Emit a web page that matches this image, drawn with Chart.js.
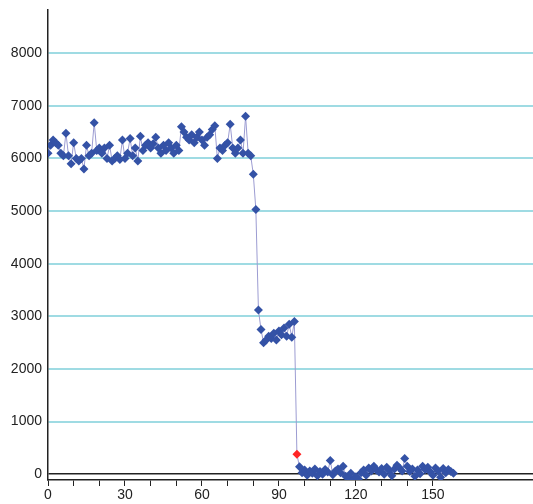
<!DOCTYPE html>
<html>
<head>
<meta charset="utf-8">
<script src="https://cdn.jsdelivr.net/npm/chart.js@4.4.1/dist/chart.umd.min.js"></script>
<style>
  html, body { margin: 0; padding: 0; background: #ffffff; }
  #wrap { width: 533px; height: 504px; position: relative; }
</style>
</head>
<body>
<div id="wrap"><canvas id="c" width="533" height="504"></canvas></div>
<script>
// Series values, one per sample (x = sample index)
const values = [
  6100, 6250, 6350, 6300, 6250, 6100, 6050, 6480, 6050, 5900,
  6300, 6000, 5950, 6000, 5800, 6250, 6050, 6100, 6680, 6150,
  6200, 6100, 6200, 6000, 6250, 5950, 6000, 6050, 5980, 6350,
  6000, 6100, 6380, 6050, 6200, 5950, 6420, 6150, 6250, 6300,
  6200, 6280, 6400, 6200, 6100, 6250, 6150, 6300, 6200, 6100,
  6250, 6150, 6600, 6500, 6400, 6350, 6450, 6300, 6400, 6500,
  6350, 6250, 6400, 6450, 6550, 6620, 6000, 6200, 6150, 6250,
  6300, 6650, 6200, 6100, 6200, 6350, 6100, 6800, 6100, 6050,
  5700, 5030, 3120, 2750, 2500, 2550, 2620, 2580, 2680, 2550,
  2720, 2650, 2780, 2620, 2850, 2600, 2900, 380, 140, 30,
  80, -20, 60, 20, 100, -30, 50, 0, 90, 40,
  260, -10, 60, 100, 30, 150, -40, -60, 20, -100,
  -50, -90, 30, 80, -20, 120, 60, 150, 80, 40,
  110, 0, 130, 70, -30, 100, 170, 120, 60, 300,
  150, 50, 100, -40, 80, 10, 150, 90, 130, 40,
  -20, 120, 60, -60, 110, 30, 90, 50, 20
];
const highlightIndex = 97;
const yTickValues = [0, 1000, 2000, 3000, 4000, 5000, 6000, 7000, 8000];
const xTickValues = [0, 10, 20, 30, 40, 50, 60, 70, 80, 90, 100, 110, 120, 130, 140, 150];
const xLabelStep = 30;

const points = values.map((v, i) => ({ x: i, y: v }));
const blue = '#3452a6';
const red = '#ff2424';
const pointColors = values.map((v, i) => i === highlightIndex ? red : blue);

new Chart(document.getElementById('c'), {
  type: 'line',
  data: {
    datasets: [{
      data: points,
      borderColor: '#9c9cd2',
      borderWidth: 1,
      tension: 0,
      pointStyle: 'rectRot',
      pointRadius: 4.5,
      pointBorderWidth: 0,
      pointBackgroundColor: pointColors,
      pointBorderColor: pointColors
    }]
  },
  options: {
    responsive: false,
    animation: false,
    events: [],
    layout: { autoPadding: false, padding: { top: 10, right: 0, left: 0, bottom: 0 } },
    plugins: { legend: { display: false }, tooltip: { enabled: false } },
    scales: {
      x: {
        type: 'linear',
        min: 0,
        max: 189,
        afterBuildTicks: (s) => { s.ticks = xTickValues.map(v => ({ value: v })); },
        afterFit: (s) => { s.height = 24; s.paddingLeft = 0; s.paddingRight = 0; },
        grid: {
          drawOnChartArea: false,
          drawTicks: true,
          tickLength: 6,
          color: '#222222',
          lineWidth: 1
        },
        border: { display: true, color: '#222222', width: 1.5 },
        ticks: {
          autoSkip: false,
          maxRotation: 0,
          padding: 1,
          color: '#222222',
          font: { family: 'Liberation Sans, Arial, sans-serif', size: 14 },
          callback: (v) => (v % xLabelStep === 0 ? String(v) : '')
        }
      },
      y: {
        type: 'linear',
        min: -110,
        max: 8820,
        afterBuildTicks: (s) => { s.ticks = yTickValues.map(v => ({ value: v })); },
        afterFit: (s) => { s.width = 48; s.paddingTop = 0; s.paddingBottom = 0; },
        grid: {
          drawTicks: false,
          color: (ctx) => (ctx.tick && ctx.tick.value === 0 ? '#222222' : '#9fdbe3'),
          lineWidth: (ctx) => (ctx.tick && ctx.tick.value === 0 ? 1.5 : 2)
        },
        border: { display: true, color: '#222222', width: 1.5 },
        ticks: {
          padding: 6,
          color: '#222222',
          font: { family: 'Liberation Sans, Arial, sans-serif', size: 14 },
          callback: (v) => String(v)
        }
      }
    }
  }
});
</script>
</body>
</html>
